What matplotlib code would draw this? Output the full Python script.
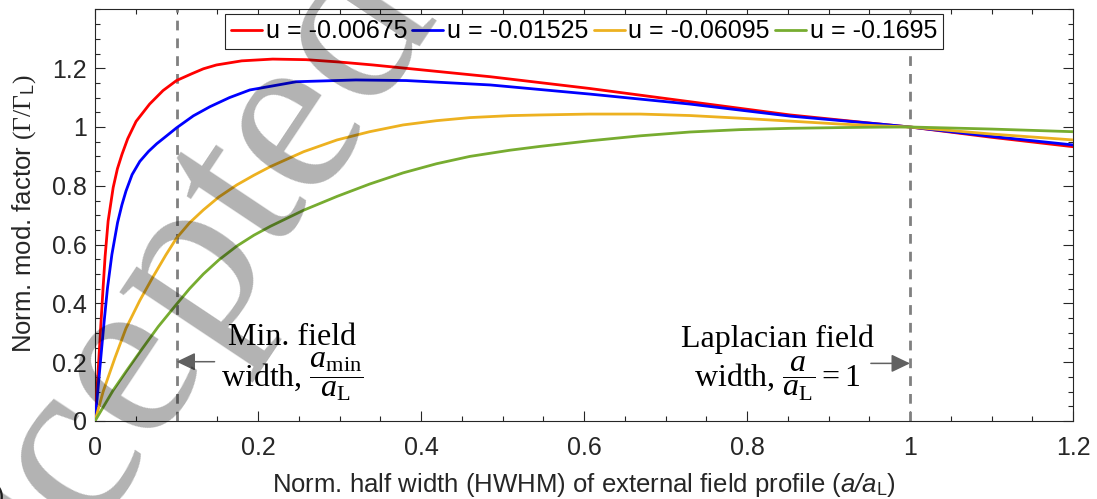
import numpy as np
import matplotlib
matplotlib.use("Agg")
import matplotlib.pyplot as plt
from matplotlib.ticker import MultipleLocator, FixedLocator, FixedFormatter

plt.rcParams['font.family'] = ['Liberation Sans', 'DejaVu Sans']
plt.rcParams['mathtext.fontset'] = 'custom'
plt.rcParams['mathtext.rm'] = 'Liberation Serif'
plt.rcParams['mathtext.it'] = 'Liberation Serif:italic'
plt.rcParams['mathtext.sf'] = 'Liberation Sans:italic'
plt.rcParams['mathtext.tt'] = 'Liberation Sans'

# ---------------- data ----------------
series_labels = ['u = -0.00675', 'u = -0.01525', 'u = -0.06095', 'u = -0.1695']
series_colors = ['#FF0000', '#0000FF', '#EDB120', '#77AC30']

red_x = [0, 0.0025, 0.005, 0.0074, 0.0099, 0.0124, 0.0161, 0.0223, 0.0275, 0.0331, 0.0401,
         0.0504, 0.067, 0.0835, 0.1, 0.1186, 0.133, 0.149, 0.18, 0.218, 0.259, 0.30,
         0.341, 0.402, 0.485, 0.607, 0.730, 0.853, 0.963, 1.0, 1.1, 1.2]
red_y = [0, 0.110, 0.224, 0.338, 0.452, 0.56, 0.680, 0.794, 0.858, 0.907, 0.960,
         1.019, 1.078, 1.124, 1.158, 1.181, 1.198, 1.211, 1.225, 1.231, 1.229, 1.221,
         1.211, 1.194, 1.171, 1.131, 1.086, 1.041, 1.010, 1.0, 0.965, 0.933]

blue_x = [0, 0.0037, 0.0074, 0.0112, 0.0153, 0.0207, 0.0277, 0.033, 0.038, 0.0455, 0.055,
          0.0657, 0.0757, 0.087, 0.1, 0.1207, 0.141, 0.165, 0.19, 0.247, 0.32, 0.382,
          0.485, 0.607, 0.73, 0.853, 0.963, 1.0, 1.1, 1.2]
blue_y = [0, 0.110, 0.224, 0.338, 0.452, 0.566, 0.675, 0.735, 0.782, 0.838, 0.883,
          0.917, 0.943, 0.968, 0.997, 1.038, 1.069, 1.100, 1.126, 1.154, 1.16, 1.158,
          1.143, 1.112, 1.078, 1.037, 1.010, 1.0, 0.968, 0.939]

orange_x = [0, 0.010, 0.0245, 0.038, 0.055, 0.0711, 0.087, 0.1, 0.116, 0.133, 0.152,
            0.174, 0.195, 0.215, 0.256, 0.297, 0.337, 0.378, 0.419, 0.46, 0.509,
            0.546, 0.607, 0.669, 0.73, 0.791, 0.853, 0.914, 0.963, 1.0, 1.1, 1.2]
orange_y = [0, 0.100, 0.215, 0.315, 0.41, 0.49, 0.565, 0.622, 0.674, 0.718, 0.762,
            0.803, 0.836, 0.865, 0.916, 0.956, 0.984, 1.007, 1.0215, 1.032, 1.0386,
            1.041, 1.044, 1.044, 1.039, 1.03, 1.02, 1.01, 1.004, 1.0, 0.976, 0.956]

green_x = [0, 0.0224, 0.038, 0.051, 0.0645, 0.0776, 0.1, 0.116, 0.133, 0.152, 0.174,
           0.195, 0.215, 0.256, 0.297, 0.337, 0.378, 0.419, 0.46, 0.509, 0.546,
           0.607, 0.669, 0.73, 0.791, 0.853, 0.914, 0.963, 1.0, 1.1, 1.2]
green_y = [0, 0.105, 0.168, 0.219, 0.271, 0.321, 0.397, 0.450, 0.50, 0.548, 0.595,
           0.632, 0.662, 0.717, 0.764, 0.806, 0.844, 0.875, 0.900, 0.921, 0.934,
           0.953, 0.970, 0.983, 0.991, 0.9955, 0.998, 0.9995, 1.0, 0.993, 0.984]

series_x = [red_x, blue_x, orange_x, green_x]
series_y = [red_y, blue_y, orange_y, green_y]

vlines_x = [0.1, 1.0]
xtick_vals = [0, 0.2, 0.4, 0.6, 0.8, 1.0, 1.2]
xtick_labels = ['0', '0.2', '0.4', '0.6', '0.8', '1', '1.2']
ytick_vals = [0, 0.2, 0.4, 0.6, 0.8, 1.0, 1.2]
ytick_labels = ['0', '0.2', '0.4', '0.6', '0.8', '1', '1.2']

xlabel_text = r"Norm. half width (HWHM) of external field profile ($\mathsf{a/a}_{\mathtt{L}}$)"
ylabel_text = r"Norm. mod. factor $(\Gamma/\Gamma_{\mathtt{L}})$"
min_line1 = "Min. field"
min_line2 = r"width, $\dfrac{a_{\mathrm{min}}}{a_{\mathrm{L}}}$"
lap_line1 = "Laplacian field"
lap_line2 = r"width, $\dfrac{a}{a_{\mathrm{L}}} = 1$"
watermark = "Accepted"

# ---------------- figure ----------------
W, H = 1097, 499
fig = plt.figure(figsize=(W / 100, H / 100), dpi=100)
ax_l, ax_r, ax_b, ax_t = 95, 1073, 421, 9.4
ax = fig.add_axes([ax_l / W, (H - ax_b) / H, (ax_r - ax_l) / W, (ax_b - ax_t) / H])

dark = '#262626'
for x, y, c, lab in zip(series_x, series_y, series_colors, series_labels):
    ax.plot(x, y, color=c, lw=2.0, label=lab, zorder=3,
            solid_joinstyle='round', solid_capstyle='round')

for vx in vlines_x:
    ax.axvline(vx, color='#808080', lw=2.0, dashes=(3.5, 2.9), zorder=2)

ax.set_xlim(0, 1.2)
ax.set_ylim(0, 1.4)
ax.xaxis.set_major_locator(FixedLocator(xtick_vals))
ax.xaxis.set_major_formatter(FixedFormatter(xtick_labels))
ax.yaxis.set_major_locator(FixedLocator(ytick_vals))
ax.yaxis.set_major_formatter(FixedFormatter(ytick_labels))
ax.xaxis.set_minor_locator(MultipleLocator(0.05))
ax.yaxis.set_minor_locator(MultipleLocator(0.05))
ax.tick_params(which='both', direction='in', top=True, right=True, color=dark, width=0.8)
ax.tick_params(which='major', length=7.2)
ax.tick_params(which='minor', length=3.6)
ax.tick_params(axis='x', which='major', pad=11, labelsize=18, labelcolor=dark)
ax.tick_params(axis='y', which='major', pad=6, labelsize=18, labelcolor=dark)
for s in ax.spines.values():
    s.set_color(dark)
    s.set_linewidth(0.8)

leg = ax.legend(loc='upper center', bbox_to_anchor=(0.5, 0.989), ncol=4, fontsize=18,
                handlelength=1.25, handletextpad=0.15, columnspacing=0.2,
                borderpad=0.22, borderaxespad=0, fancybox=False, framealpha=1,
                edgecolor=dark, frameon=True)
leg.get_frame().set_linewidth(0.8)
for t in leg.get_texts():
    t.set_color('black')

# annotations
serif = 'Liberation Serif'
ax.text(0.2417, 0.2585, min_line1, family=serif, fontsize=23, ha='center', va='baseline')
ax.text(0.2417, 0.1156, min_line2, family=serif, fontsize=23, ha='center', va='baseline')
ax.text(0.8377, 0.2527, lap_line1, family=serif, fontsize=23, ha='center', va='baseline')
ax.text(0.8374, 0.1167, lap_line2, family=serif, fontsize=23, ha='center', va='baseline')

arrow_kw = dict(arrowstyle='-|>,head_length=1.15,head_width=0.55', color='0.38', lw=1.1,
                shrinkA=0, shrinkB=0, mutation_scale=10)
ax.annotate('', xy=(0.1, 0.2017), xytext=(0.1467, 0.2017), arrowprops=arrow_kw)
ax.annotate('', xy=(1.0, 0.196), xytext=(0.952, 0.196), arrowprops=arrow_kw)

# axis labels
fig.text(584 / W, (H - 492) / H, xlabel_text, fontsize=18.5, color=dark,
         ha='center', va='baseline')
fig.text(24 / W, (H - 214) / H, ylabel_text, fontsize=18.5, color=dark,
         rotation=90, ha='center', va='center')

# partial panel mark at the lower-left corner
fig.text(4 / W, (H - 485) / H, ')', fontsize=18, color=dark, ha='right', va='top')

# watermark: letters laid along a slanted baseline
em = 240.0
theta = np.deg2rad(56.3)
u = np.array([np.cos(theta), -np.sin(theta)])       # along text (pixel coords, y down)
down = np.array([np.sin(theta), np.cos(theta)])     # text "down" direction
ref_center = np.array([73.0, 458.0])
offsets_em = [-1.027, -0.444, 0.0, 0.444, 0.916, 1.305, 1.666, 2.138]
for ch, oe in zip(watermark, offsets_em):
    p = ref_center + oe * em * u + 0.224 * em * down
    fig.text(p[0] / W, (H - p[1]) / H, ch, family=serif, fontsize=em * 0.72,
             color='black', alpha=0.3, rotation=np.rad2deg(theta),
             rotation_mode='anchor', ha='center', va='baseline', zorder=10)

fig.savefig('out.png', dpi=100)
